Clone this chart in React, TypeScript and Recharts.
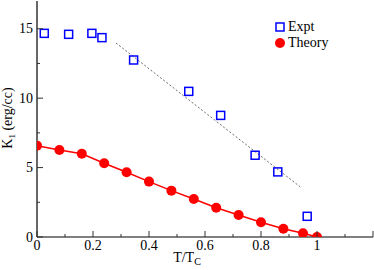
import React from 'react';
import { ComposedChart, Line, Scatter, XAxis, YAxis, Legend, Label } from 'recharts';

// values
const theoryT = [0, 0.08, 0.16, 0.24, 0.32, 0.4, 0.48, 0.56, 0.64, 0.72, 0.8, 0.88, 0.95, 1.0];
const theoryK = [6.58, 6.27, 6.0, 5.31, 4.66, 3.99, 3.34, 2.74, 2.11, 1.59, 1.06, 0.6, 0.27, 0.0];

const exptT = [0.026, 0.113, 0.196, 0.232, 0.345, 0.542, 0.656, 0.779, 0.86, 0.965];
const exptK = [14.67, 14.6, 14.67, 14.36, 12.75, 10.49, 8.76, 5.89, 4.69, 1.49];

const fitT = [0.282, 0.94];
const fitK = [13.98, 3.61];

const xTicks = [0, 0.1, 0.2, 0.3, 0.4, 0.5, 0.6, 0.7, 0.8, 0.9, 1, 1.1, 1.2];
const yTicks = [0, 2.5, 5, 7.5, 10, 12.5, 15];

const RED = '#ff0000';
const BLUE = '#0000ff';
const FONT = '"Liberation Serif", "Times New Roman", serif';
const TICK_COLOR = '#333';

const theoryData = theoryT.map((t, i) => ({ t, k: theoryK[i] }));
const exptData = exptT.map((t, i) => ({ t, k: exptK[i] }));
const fitData = fitT.map((t, i) => ({ t, fit: fitK[i] }));

const isMajorX = (v: number) => Math.round(v * 10) % 2 === 0;
const isMajorY = (v: number) => v % 5 === 0;

const BottomTick = (props: any) => {
  const { x, y, payload } = props;
  const major = isMajorX(payload.value);
  return (
    <g>
      <line x1={x} x2={x} y1={y} y2={y - (major ? 6 : 3)} stroke={TICK_COLOR} />
      {major && payload.value <= 1 && (
        <text x={x} y={y + 13} textAnchor="middle" fontSize={14} fontFamily={FONT} fill="#000">
          {payload.value}
        </text>
      )}
    </g>
  );
};

const TopTick = (props: any) => {
  const { x, y, payload } = props;
  const major = isMajorX(payload.value);
  return <line x1={x} x2={x} y1={y} y2={y + (major ? 6 : 3)} stroke={TICK_COLOR} />;
};

const LeftTick = (props: any) => {
  const { x, y, payload } = props;
  const major = isMajorY(payload.value);
  return (
    <g>
      <line x1={x} x2={x + (major ? 6 : 3)} y1={y} y2={y} stroke={TICK_COLOR} />
      {major && (
        <text x={x - 4} y={y + 4.5} textAnchor="end" fontSize={14} fontFamily={FONT} fill="#000">
          {payload.value}
        </text>
      )}
    </g>
  );
};

const RightTick = (props: any) => {
  const { x, y, payload } = props;
  const major = isMajorY(payload.value);
  return <line x1={x} x2={x - (major ? 6 : 3)} y1={y} y2={y} stroke={TICK_COLOR} />;
};

const SquareMarker = (props: any) => {
  const { cx, cy } = props;
  return <rect x={cx - 4} y={cy - 4} width={8} height={8} fill="none" stroke={BLUE} strokeWidth={1.5} />;
};

const YLabel = (props: any) => {
  const { viewBox } = props;
  const x = viewBox.x + 12;
  const y = viewBox.y + viewBox.height / 2 - 1;
  return (
    <text x={x} y={y} transform={`rotate(-90, ${x}, ${y})`} textAnchor="middle" fontSize={14} fontFamily={FONT} fill="#000">
      <tspan>K</tspan>
      <tspan fontSize={9} dy={3}>1</tspan>
      <tspan dy={-3}>{'  (erg/cc)'}</tspan>
    </text>
  );
};

const XLabel = (props: any) => {
  const { viewBox } = props;
  const x = viewBox.x + 150;
  const y = viewBox.y + 25;
  return (
    <text x={x} y={y} textAnchor="middle" fontSize={14} fontFamily={FONT} fill="#000">
      <tspan>T/T</tspan>
      <tspan fontSize={10} dy={3}>C</tspan>
    </text>
  );
};

const renderLegend = () => (
  <div style={{ fontFamily: FONT, fontSize: 14, color: '#000' }}>
    <div style={{ display: 'flex', alignItems: 'center', height: 16 }}>
      <svg width={10} height={10} style={{ marginRight: 3 }}>
        <rect x={1} y={1} width={8} height={8} fill="none" stroke={BLUE} strokeWidth={1.5} />
      </svg>
      <span>Expt</span>
    </div>
    <div style={{ display: 'flex', alignItems: 'center', height: 16 }}>
      <svg width={10} height={10} style={{ marginRight: 3 }}>
        <circle cx={5} cy={5} r={5} fill={RED} />
      </svg>
      <span>Theory</span>
    </div>
  </div>
);

export default function App() {
  return (
    <div style={{ position: 'absolute', left: 0, top: 0 }}>
      <ComposedChart
        width={374}
        height={270}
        data={theoryData}
        margin={{ top: 1, right: 1, bottom: 0, left: 0 }}
      >
        <XAxis
          type="number"
          dataKey="t"
          domain={[0, 1.2]}
          ticks={xTicks}
          interval={0}
          height={33}
          tickSize={0}
          tickMargin={0}
          tick={<BottomTick />}
          axisLine={{ stroke: '#000', strokeWidth: 1.2 }}
          allowDataOverflow
        >
          <Label content={<XLabel />} />
        </XAxis>
        <XAxis
          xAxisId="top"
          orientation="top"
          type="number"
          dataKey="t"
          domain={[0, 1.2]}
          ticks={xTicks}
          interval={0}
          height={0}
          tickSize={0}
          tickMargin={0}
          tick={<TopTick />}
          axisLine={{ stroke: '#000', strokeWidth: 1.2 }}
          allowDataOverflow
        />
        <YAxis
          type="number"
          domain={[0, 17]}
          ticks={yTicks}
          interval={0}
          width={37}
          tickSize={0}
          tickMargin={0}
          tick={<LeftTick />}
          axisLine={{ stroke: '#000', strokeWidth: 1.2 }}
          allowDataOverflow
        >
          <Label content={<YLabel />} />
        </YAxis>
        <YAxis
          yAxisId="right"
          orientation="right"
          type="number"
          domain={[0, 17]}
          ticks={yTicks}
          interval={0}
          width={0}
          tickSize={0}
          tickMargin={0}
          tick={<RightTick />}
          axisLine={{ stroke: '#000', strokeWidth: 1.2 }}
          allowDataOverflow
        />
        <Legend
          layout="horizontal"
          verticalAlign="middle"
          align="center"
          content={renderLegend}
          wrapperStyle={{ left: 275, top: 19, width: 90, height: 32 }}
        />
        <Line
          data={fitData}
          dataKey="fit"
          type="linear"
          stroke="#444"
          strokeWidth={0.8}
          strokeDasharray="2 2"
          dot={false}
          activeDot={false}
          legendType="none"
          isAnimationActive={false}
        />
        <Line
          dataKey="k"
          type="linear"
          stroke={RED}
          strokeWidth={1.5}
          dot={{ r: 5, fill: RED, stroke: 'none' }}
          activeDot={false}
          name="Theory"
          isAnimationActive={false}
        />
        <Scatter
          data={exptData}
          dataKey="k"
          name="Expt"
          shape={<SquareMarker />}
          isAnimationActive={false}
        />
      </ComposedChart>
    </div>
  );
}
